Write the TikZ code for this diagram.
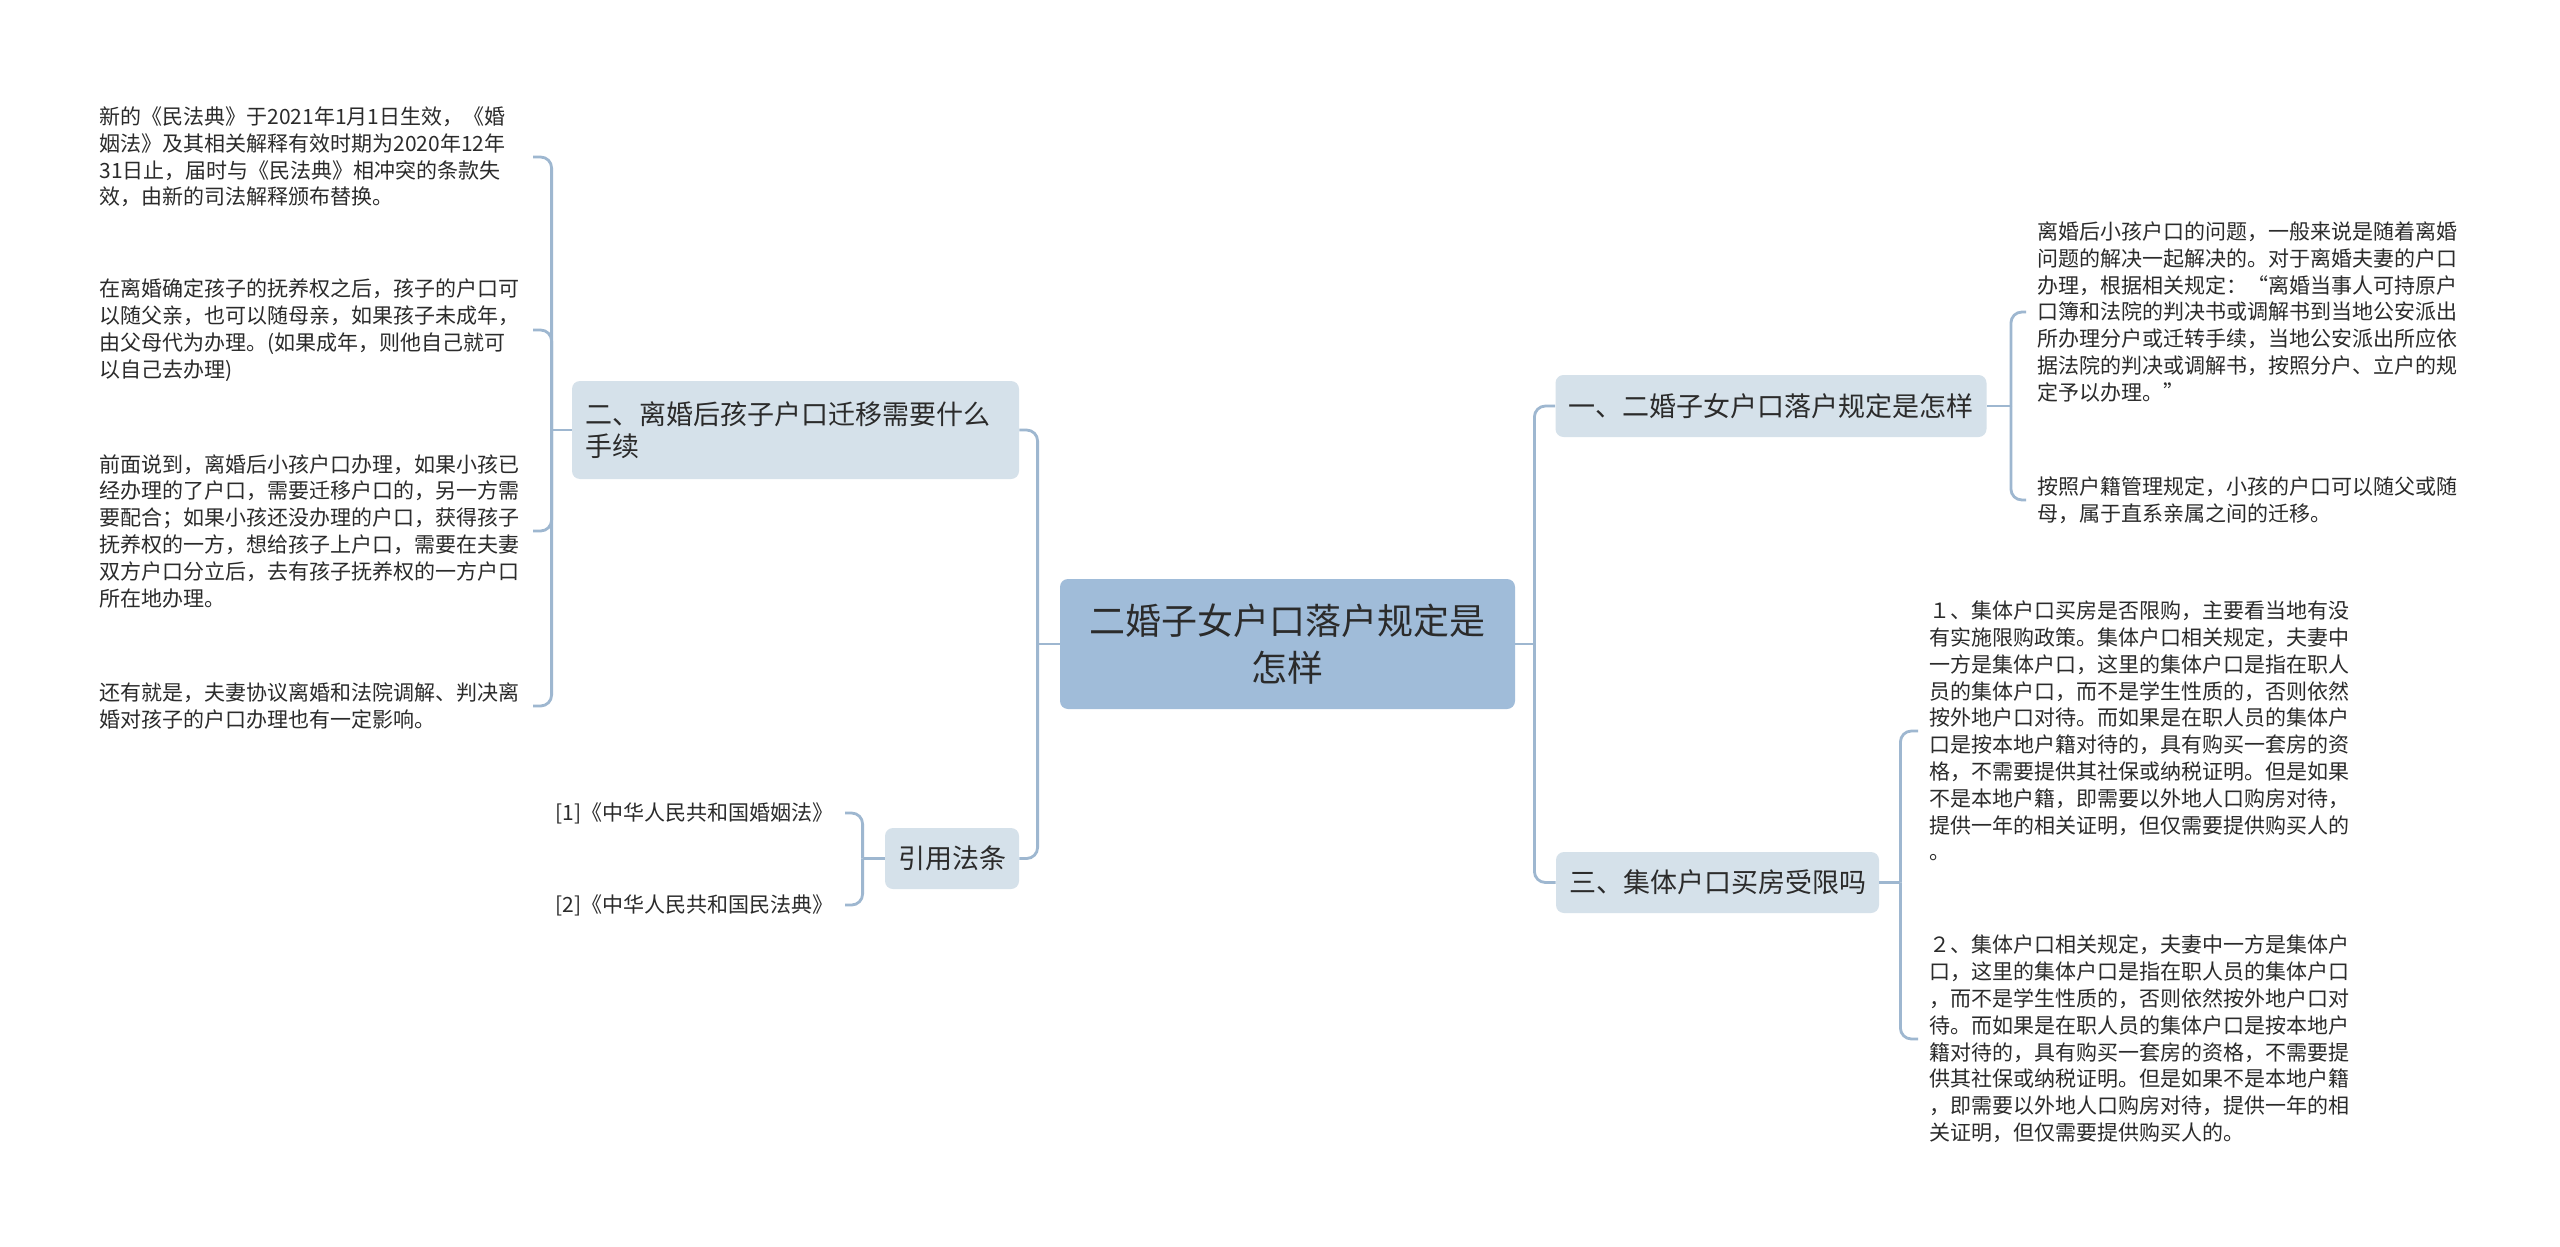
\documentclass[tikz,border=0pt]{standalone}
\usepackage{fontspec}
\newfontfamily\cjk{Noto Sans CJK SC}
\definecolor{linec}{HTML}{9EB7D0}
\definecolor{lonefill}{HTML}{D5E1EA}
\definecolor{rootfill}{HTML}{A0BCD9}
\definecolor{txt}{HTML}{2B2B2B}
\begin{document}
\begin{tikzpicture}[x=0.5pt,y=-0.5pt,
  conn/.style={draw=linec, line width=1.4pt, rounded corners=5.5pt},
  leaf/.style={font=\cjk\fontsize{10.5pt}{13.4pt}\selectfont, text=txt, align=left, text width=211pt, inner xsep=5.5pt, inner ysep=1pt},
  citeleaf/.style={font=\cjk\fontsize{10.5pt}{13.4pt}\selectfont, text=txt, align=left, inner xsep=5.5pt, inner ysep=1pt},
  lone/.style={fill=lonefill, rounded corners=4pt, font=\cjk\fontsize{13.5pt}{16pt}\selectfont, text=txt, inner xsep=6.5pt, inner ysep=0pt},
  root/.style={fill=rootfill, rounded corners=4pt, font=\cjk\fontsize{18pt}{23.5pt}\selectfont, text=txt, align=center, inner sep=0pt}]
\useasboundingbox[fill=white] (0,0) rectangle (2560,1247);

% root
\node[root, minimum width=227.5pt, minimum height=65pt] (c) at (1287.5,644) {二婚子女户口落户规定是\\怎样};

% level one
\node[lone, text width=210.5pt, align=left, minimum height=49pt] (n2) at (795.5,430) {二、离婚后孩子户口迁移需要什么\\手续};
\node[lone, minimum width=67pt, minimum height=30.5pt] (cite) at (952,858.5) {引用法条};
\node[lone, minimum width=215.5pt, minimum height=31pt] (n1) at (1771,406) {一、二婚子女户口落户规定是怎样};
\node[lone, minimum width=161.5pt, minimum height=30.5pt] (n3) at (1717.5,882.5) {三、集体户口买房受限吗};

% left leaves
\node[leaf, anchor=east] (l1) at (533,157) {新的《民法典》于2021年1月1日生效，《婚\\姻法》及其相关解释有效时期为2020年12年\\31日止，届时与《民法典》相冲突的条款失\\效，由新的司法解释颁布替换。};
\node[leaf, anchor=east] (l2) at (533,330) {在离婚确定孩子的抚养权之后，孩子的户口可\\以随父亲，也可以随母亲，如果孩子未成年，\\由父母代为办理。(如果成年，则他自己就可\\以自己去办理)};
\node[leaf, anchor=east] (l3) at (533,531) {前面说到，离婚后小孩户口办理，如果小孩已\\经办理的了户口，需要迁移户口的，另一方需\\要配合；如果小孩还没办理的户口，获得孩子\\抚养权的一方，想给孩子上户口，需要在夫妻\\双方户口分立后，去有孩子抚养权的一方户口\\所在地办理。};
\node[leaf, anchor=east] (l4) at (533,706) {还有就是，夫妻协议离婚和法院调解、判决离\\婚对孩子的户口办理也有一定影响。};

\node[citeleaf, anchor=east] (k1) at (845,813) {[1]《中华人民共和国婚姻法》};
\node[citeleaf, anchor=east] (k2) at (845,905) {[2]《中华人民共和国民法典》};

% right leaves
\node[leaf, anchor=west] (ra) at (2026,312) {离婚后小孩户口的问题，一般来说是随着离婚\\问题的解决一起解决的。对于离婚夫妻的户口\\办理，根据相关规定：“离婚当事人可持原户\\口簿和法院的判决书或调解书到当地公安派出\\所办理分户或迁转手续，当地公安派出所应依\\据法院的判决或调解书，按照分户、立户的规\\定予以办理。”};
\node[leaf, anchor=west] (rb) at (2026,500) {按照户籍管理规定，小孩的户口可以随父或随\\母，属于直系亲属之间的迁移。};

\node[leaf, anchor=west] (rc) at (1918,731) {１、集体户口买房是否限购，主要看当地有没\\有实施限购政策。集体户口相关规定，夫妻中\\一方是集体户口，这里的集体户口是指在职人\\员的集体户口，而不是学生性质的，否则依然\\按外地户口对待。而如果是在职人员的集体户\\口是按本地户籍对待的，具有购买一套房的资\\格，不需要提供其社保或纳税证明。但是如果\\不是本地户籍，即需要以外地人口购房对待，\\提供一年的相关证明，但仅需要提供购买人的\\。};
\node[leaf, anchor=west] (rd) at (1918,1039) {２、集体户口相关规定，夫妻中一方是集体户\\口，这里的集体户口是指在职人员的集体户口\\，而不是学生性质的，否则依然按外地户口对\\待。而如果是在职人员的集体户口是按本地户\\籍对待的，具有购买一套房的资格，不需要提\\供其社保或纳税证明。但是如果不是本地户籍\\，即需要以外地人口购房对待，提供一年的相\\关证明，但仅需要提供购买人的。};

% connectors
\draw[conn] (c.west) -- ++(-22,0) coordinate (jl);
\draw[conn] (jl) |- (n2.east);
\draw[conn] (jl) |- (cite.east);
\draw[conn] (c.east) -- ++(19,0) coordinate (jr);
\draw[conn] (jr) |- (n1.west);
\draw[conn] (jr) |- (n3.west);

\draw[conn] (n2.west) -- ++(-20,0) coordinate (j2);
\draw[conn] (j2) |- (l1.east);
\draw[conn] (j2) |- (l2.east);
\draw[conn] (j2) |- (l3.east);
\draw[conn] (j2) |- (l4.east);

\draw[conn] (cite.west) -- ++(-22,0) coordinate (jk);
\draw[conn] (jk) |- (k1.east);
\draw[conn] (jk) |- (k2.east);

\draw[conn] (n1.east) -- ++(24,0) coordinate (j1);
\draw[conn] (j1) |- (ra.west);
\draw[conn] (j1) |- (rb.west);

\draw[conn] (n3.east) -- ++(21,0) coordinate (j3);
\draw[conn] (j3) |- (rc.west);
\draw[conn] (j3) |- (rd.west);
\end{tikzpicture}
\end{document}
